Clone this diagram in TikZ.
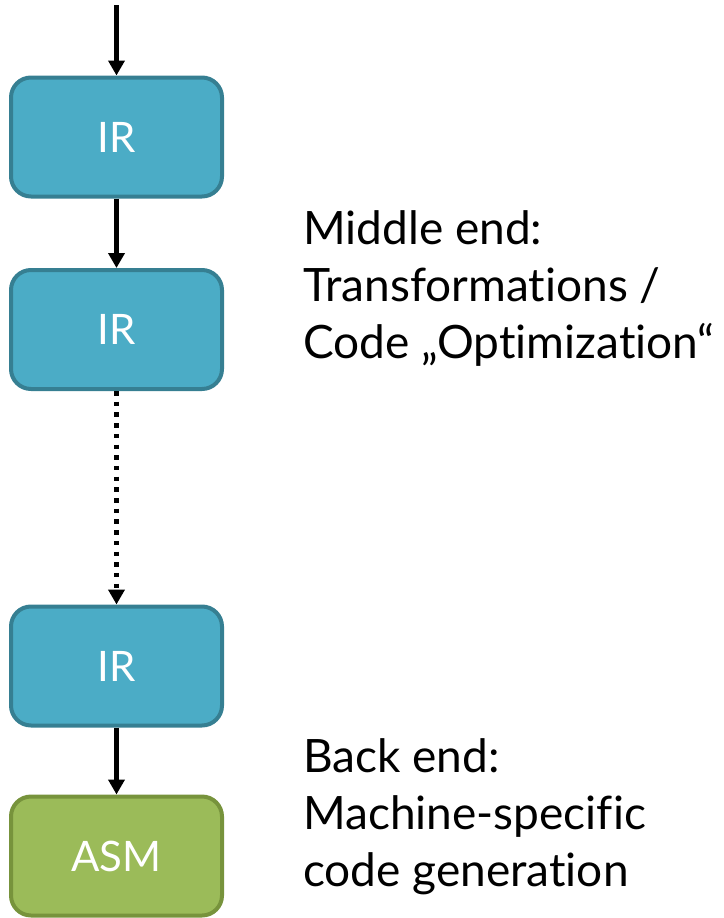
\documentclass[tikz,border=0pt]{standalone}
\usepackage{fontspec}
\setmainfont{Lato}[Ligatures=NoCommon]
\usetikzlibrary{arrows.meta}
\definecolor{irfill}{HTML}{4BACC6}
\definecolor{irline}{HTML}{367F92}
\definecolor{asmfill}{HTML}{9BBB59}
\definecolor{asmline}{HTML}{77933C}
\begin{document}
\begin{tikzpicture}[x=1pt,y=-1pt,
  stage/.style={rounded corners=20pt, line width=4pt, minimum width=211pt, minimum height=119pt,
    inner sep=0pt, text=white, font=\fontsize{42}{48}\selectfont},
  irbox/.style={stage, fill=irfill, draw=irline},
  asmbox/.style={stage, fill=asmfill, draw=asmline},
  flow/.style={line width=4.5pt, -{Triangle[length=15pt,width=16pt]}},
  note/.style={anchor=base west, align=left, inner sep=0pt, font=\fontsize{46}{57}\selectfont}]
\useasboundingbox (0,0) rectangle (723,918);
\node[irbox] (ir1) at (116.5,137) {IR};
\node[irbox] (ir2) at (116.5,329.5) {IR};
\node[irbox] (ir3) at (116.5,666) {IR};
\node[asmbox] (asm) at (116.5,856) {ASM};
\coordinate (in) at (116.5,5);
\draw[flow] (in) -- (ir1.north);
\draw[flow] (ir1.south) -- (ir2.north);
\draw[flow, dash pattern=on 4.5pt off 6.2pt] (ir2.south) -- (ir3.north);
\draw[flow] (ir3.south) -- (asm.north);
% base anchor of a multi-line node sits on its last line
\node[note] (mid) at (303,358) {Middle end:\\Transformations /\\Code „Optimization“};
\node[note] (back) at (303,886) {Back end:\\Machine-specific\\code generation};
\end{tikzpicture}
\end{document}
